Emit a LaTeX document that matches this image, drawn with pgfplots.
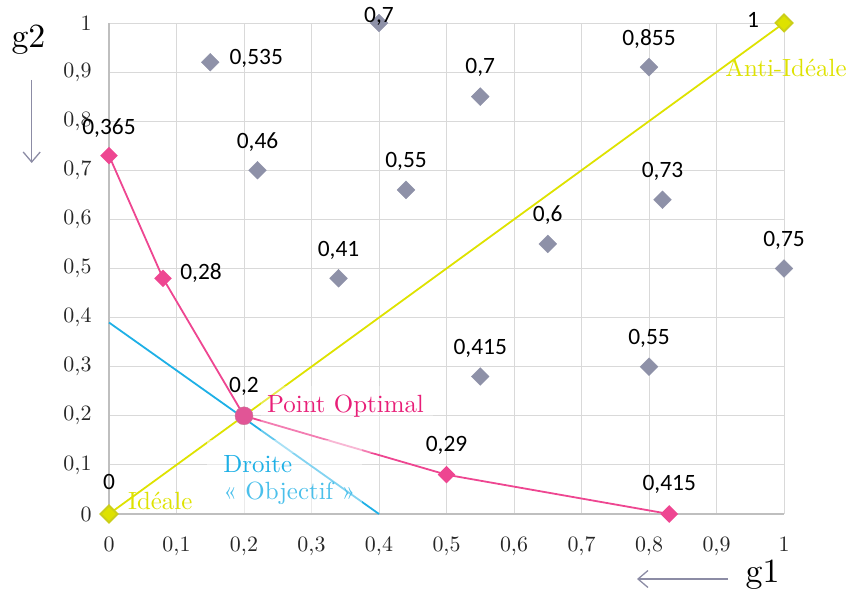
\documentclass[border=0pt]{standalone}
\usepackage{fontspec}
\setmainfont{lmroman10-regular.otf}
\usepackage{pgfplots}
\pgfplotsset{compat=1.18}
\usetikzlibrary{arrows.meta}
\newfontfamily\calib{Carlito}
\definecolor{ptgray}{RGB}{142,145,168}
\definecolor{ppink}{RGB}{238,70,145}
\definecolor{ptext}{RGB}{232,30,120}
\definecolor{ayellow}{RGB}{222,226,0}
\definecolor{bblue}{RGB}{30,176,230}
\definecolor{arrgray}{RGB}{140,140,165}
\definecolor{gridc}{RGB}{217,217,217}
\definecolor{axc}{RGB}{191,191,191}

\pgfplotstableread{
x y dx dy lab
0.15 0.92 46 -2 0,535
0.22 0.70 0 22 0,46
0.40 1.00 0 0 0,7
0.55 0.85 0 23 0,7
0.44 0.66 0 22 0,55
0.34 0.48 0 22 0,41
0.65 0.55 0 22 0,6
0.80 0.91 0 22 0,855
0.82 0.64 0 22 0,73
1.00 0.50 0 22 0,75
0.55 0.28 0 22 0,415
0.80 0.30 0 22 0,55
}\graydata

\pgfplotstableread{
x y dx dy lab
0.00 0.73 0 21 0,365
0.08 0.48 38 -1 0,28
0.20 0.20 0 23 0,2
0.50 0.08 0 23 0,29
0.83 0.00 0 23 0,415
}\pinkdata

\pgfplotstableread{
x y dx dy lab
0 0 0 24 0
1 1 -31 -5 1
}\yellowdata

\pgfplotstableread{
x y
0.00 0.39
0.40 0.00
}\bluedata

\pgfplotsset{
  labelled/.style={
    nodes near coords,
    point meta=explicit symbolic,
    visualization depends on={\thisrow{dx} \as \dx},
    visualization depends on={\thisrow{dy} \as \dy},
    every node near coord/.append style={font=\calib\fontsize{23.5}{27}\selectfont, text=black, anchor=base, inner sep=0pt, xshift=\dx*1bp, yshift=\dy*1bp},
  }
}

\begin{document}
\begin{tikzpicture}[x=1bp,y=1bp]
\path[use as bounding box] (-109,-85) rectangle (744,514);
\begin{axis}[
  scale only axis, width=675bp, height=491bp,
  at={(0,0)}, anchor=south west,
  xmin=0, xmax=1, ymin=0, ymax=1,
  xtick={0,0.1,0.2,0.3,0.4,0.5,0.6,0.7,0.8,0.9,1},
  ytick={0,0.1,0.2,0.3,0.4,0.5,0.6,0.7,0.8,0.9,1},
  grid=major, grid style={draw=gridc, line width=0.9bp},
  axis lines*=left,
  axis line style={draw=axc, line width=1.2bp},
  major tick length=0pt,
  tick label style={font=\fontsize{22}{26}\selectfont, text=black!85},
  xticklabel style={yshift=-19bp},
  yticklabel style={xshift=-14bp},
  /pgf/number format/use comma,
  /pgf/number format/fixed,
  /pgf/number format/precision=1,
  /pgf/number format/assume math mode=true,
  clip=false,
]
% gray points
\addplot[only marks, mark=square*, mark size=6.3bp, mark options={rotate=45, fill=ptgray, draw=ptgray}, labelled]
  table[x=x, y=y, meta=lab] {\graydata};
% pink line
\addplot[ppink, line width=1.8bp, mark=square*, mark size=5.3bp, mark options={rotate=45, fill=ppink, draw=ppink, solid}, labelled]
  table[x=x, y=y, meta=lab] {\pinkdata};
% optimal point
\addplot[only marks, mark=*, mark size=9bp, mark options={fill={rgb,255:red,225;green,85;blue,150}, draw={rgb,255:red,200;green,120;blue,150}}]
  coordinates {(0.2,0.2)};
% yellow line
\addplot[ayellow, line width=1.8bp, mark=square*, mark size=6bp, mark options={rotate=45, fill=ayellow, draw=ayellow!80!gray, solid}, labelled]
  table[x=x, y=y, meta=lab] {\yellowdata};
% blue line
\addplot[bblue, line width=1.8bp, no marks]
  table[x=x, y=y] {\bluedata};
% semi-transparent text boxes
\fill[white, fill opacity=0.45] (axis cs:0.145,0.002) rectangle (axis cs:0.375,0.151);
\fill[white, fill opacity=0.3] (axis cs:0.225,0.125) rectangle (axis cs:0.48,0.26);
% annotations
\node[anchor=base west, inner sep=0pt, text=ayellow, font=\fontsize{25}{30}\selectfont] at (axis cs:0.913,0.89) {Anti-Idéale};
\node[anchor=base west, inner sep=0pt, text=ptext, font=\fontsize{25}{30}\selectfont] at (axis cs:0.234,0.206) {Point Optimal};
\node[anchor=base west, inner sep=0pt, text=ayellow, font=\fontsize{25}{30}\selectfont] at (axis cs:0.028,0.010) {Idéale};
\node[anchor=base west, inner sep=0pt, text=bblue, font=\fontsize{25}{30}\selectfont] at (axis cs:0.169,0.0855) {Droite};
\node[anchor=base west, inner sep=0pt, text=bblue!80, font=\fontsize{25}{30}\selectfont] at (axis cs:0.169,0.0305) {« Objectif »};
\end{axis}
% axis names and arrows
\node[anchor=base, inner sep=0pt, font=\fontsize{34}{40}\selectfont] at (-80.5,466) {g2};
\draw[arrgray, line width=1.3bp, -{Straight Barb[length=10bp, width=17bp]}] (-77.3,434) -- (-77.3,351);
\node[anchor=base, inner sep=0pt, font=\fontsize{34}{40}\selectfont] at (653.5,-69) {g1};
\draw[arrgray, line width=1.3bp, -{Straight Barb[length=10bp, width=17bp]}] (619,-65) -- (528,-65);
\end{tikzpicture}
\end{document}
